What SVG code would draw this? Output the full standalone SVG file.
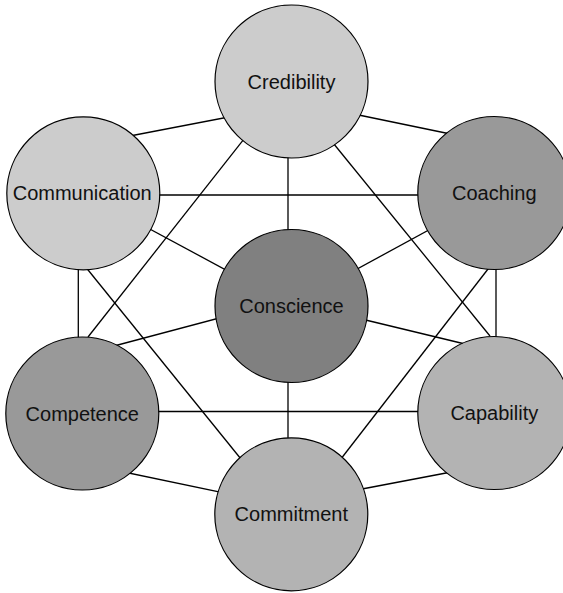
<svg xmlns="http://www.w3.org/2000/svg" width="563" height="593" viewBox="0 0 563 593">
<style>
  .edge { stroke: #000; stroke-width: 1.3; fill: none; }
  .node circle { stroke: #000; stroke-width: 1.2; }
  .node text { font-family: "Liberation Sans", Arial, sans-serif; font-size: 20px; fill: #111; text-anchor: middle; }
  .c1 { fill: #cccccc; }
  .c2 { fill: #999999; }
  .c3 { fill: #808080; }
  .c4 { fill: #b3b3b3; }
</style>
<rect width="563" height="593" fill="#fff"/>
<g id="connectors">
  <!-- Credibility - Communication -->
  <line class="edge" x1="83" y1="145" x2="291" y2="105"/>
  <!-- Credibility - Coaching -->
  <line class="edge" x1="291" y1="101" x2="494" y2="143"/>
  <!-- Credibility - Conscience -->
  <line class="edge" x1="288" y1="150" x2="288" y2="240"/>
  <!-- Credibility - Competence -->
  <line class="edge" x1="290.5" y1="80" x2="88" y2="337"/>
  <!-- Credibility - Capability -->
  <line class="edge" x1="290" y1="90" x2="490" y2="336"/>
  <!-- Communication - Coaching -->
  <line class="edge" x1="83" y1="195" x2="494" y2="195"/>
  <!-- Communication - Conscience -->
  <line class="edge" x1="120" y1="213" x2="291" y2="305"/>
  <!-- Communication - Competence -->
  <line class="edge" x1="78.3" y1="260" x2="78.3" y2="345"/>
  <!-- Communication - Commitment -->
  <line class="edge" x1="80" y1="260" x2="245" y2="464"/>
  <!-- Coaching - Conscience -->
  <line class="edge" x1="460" y1="213" x2="291" y2="305"/>
  <!-- Coaching - Capability -->
  <line class="edge" x1="496" y1="260" x2="496" y2="345"/>
  <!-- Coaching - Commitment -->
  <line class="edge" x1="495" y1="260" x2="337" y2="464"/>
  <!-- Conscience - Competence -->
  <line class="edge" x1="82" y1="354.5" x2="291" y2="299"/>
  <!-- Conscience - Capability -->
  <line class="edge" x1="291" y1="302" x2="494" y2="351"/>
  <!-- Conscience - Commitment -->
  <line class="edge" x1="288" y1="370" x2="288" y2="450"/>
  <!-- Competence - Capability -->
  <line class="edge" x1="82" y1="411.5" x2="494" y2="411.5"/>
  <!-- Competence - Commitment -->
  <line class="edge" x1="100" y1="467" x2="291" y2="507"/>
  <!-- Capability - Commitment -->
  <line class="edge" x1="291" y1="502.5" x2="475" y2="467.5"/>
</g>
<g id="credibility" class="node">
  <circle class="c1" cx="291.5" cy="81.5" r="76.5"/>
  <text x="291.5" y="88.5">Credibility</text>
</g>
<g id="communication" class="node">
  <circle class="c1" cx="83.3" cy="193.3" r="76.5"/>
  <text x="82.2" y="200.3">Communication</text>
</g>
<g id="coaching" class="node">
  <circle class="c2" cx="494.3" cy="193" r="76.5"/>
  <text x="494.3" y="200">Coaching</text>
</g>
<g id="conscience" class="node">
  <circle class="c3" cx="291.5" cy="306" r="76.5"/>
  <text x="291.5" y="313">Conscience</text>
</g>
<g id="competence" class="node">
  <circle class="c2" cx="82.3" cy="413.5" r="76.5"/>
  <text x="82.3" y="420.5">Competence</text>
</g>
<g id="capability" class="node">
  <circle class="c4" cx="494.3" cy="413" r="76.5"/>
  <text x="494.3" y="420">Capability</text>
</g>
<g id="commitment" class="node">
  <circle class="c4" cx="291.3" cy="514.3" r="76.5"/>
  <text x="291.3" y="521.3">Commitment</text>
</g>
</svg>
